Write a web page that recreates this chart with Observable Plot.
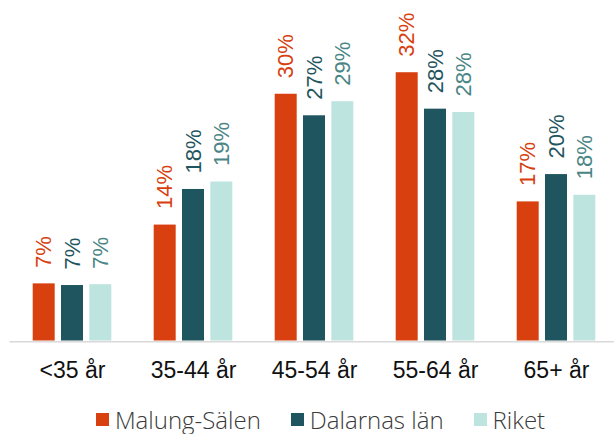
<!DOCTYPE html>
<html>
<head>
<meta charset="utf-8">
<script src="https://cdn.jsdelivr.net/npm/d3@7"></script>
<script src="https://cdn.jsdelivr.net/npm/@observablehq/plot@0.6"></script>
<style>
  html, body { margin: 0; padding: 0; background: #fff; width: 614px; height: 434px; overflow: hidden; }
  #chart svg { display: block; }
  .legend { display: flex; justify-content: center; align-items: center; height: 39px; padding-left: 27px; padding-top: 10px; box-sizing: border-box;
    font-family: "Open Sans", sans-serif; font-weight: 300; font-size: 24px; line-height: 26px; color: #3a3a3a; }
  .legend .item { display: flex; align-items: center; margin: 0 15px; }
  .legend .sw { width: 13px; height: 13px; margin-right: 6px; }
</style>
</head>
<body>
<div id="chart"></div>
<script>
const groups = ["<35 år", "35-44 år", "45-54 år", "55-64 år", "65+ år"];
const seriesNames = ["Malung-Sälen", "Dalarnas län", "Riket"];
const malungSalen = [6.9, 14.0, 29.8, 32.4, 16.8];
const dalarnasLan = [6.7, 18.3, 27.2, 28.0, 20.1];
const riket = [6.8, 19.2, 28.9, 27.6, 17.6];

const barColors = ["#D8400F", "#1F555E", "#BEE4E0"];
const labelColors = ["#D8400F", "#1F555E", "#4A8585"];
const offsets = [-28.3, 0, 28.3];

const seriesValues = [malungSalen, dalarnasLan, riket];
const marks = [];
seriesValues.forEach((vals, i) => {
  const data = groups.map((g, j) => ({group: g, value: vals[j], series: seriesNames[i]}));
  marks.push(Plot.barY(data, {x: "group", y: "value", fill: barColors[i], dx: offsets[i]}));
  marks.push(Plot.text(data, {
    x: "group", y: "value", dx: offsets[i], dy: -16,
    text: d => Math.round(d.value) + "%",
    rotate: -90, textAnchor: "start", lineAnchor: "middle",
    fill: labelColors[i], fontSize: 22, fontFamily: "Liberation Sans, Arial, sans-serif"
  }));
});
marks.push(Plot.ruleY([0], {stroke: "#d9d9d9", strokeWidth: 1.6, dy: 0.8}));
marks.push(Plot.axisX({tickSize: 0, tickPadding: 21, fontSize: 23, fill: "#111",
  fontFamily: "Liberation Sans, Arial, sans-serif"}));

const chart = Plot.plot({
  width: 614,
  height: 395,
  marginLeft: 9.45,
  marginRight: -4.45,
  marginTop: 9.3,
  marginBottom: 54.5,
  x: {domain: groups, paddingInner: 0.817, paddingOuter: 0.4085, label: null, axis: null},
  y: {domain: [0, 40], axis: null},
  style: {background: "#fff", overflow: "visible"},
  marks
});
document.getElementById("chart").appendChild(chart);

const legend = document.createElement("div");
legend.className = "legend";
seriesNames.forEach((name, i) => {
  const item = document.createElement("div");
  item.className = "item";
  const sw = document.createElement("span");
  sw.className = "sw";
  sw.style.background = barColors[i];
  const t = document.createElement("span");
  t.textContent = name;
  item.appendChild(sw); item.appendChild(t);
  legend.appendChild(item);
});
document.getElementById("chart").appendChild(legend);
</script>
</body>
</html>
